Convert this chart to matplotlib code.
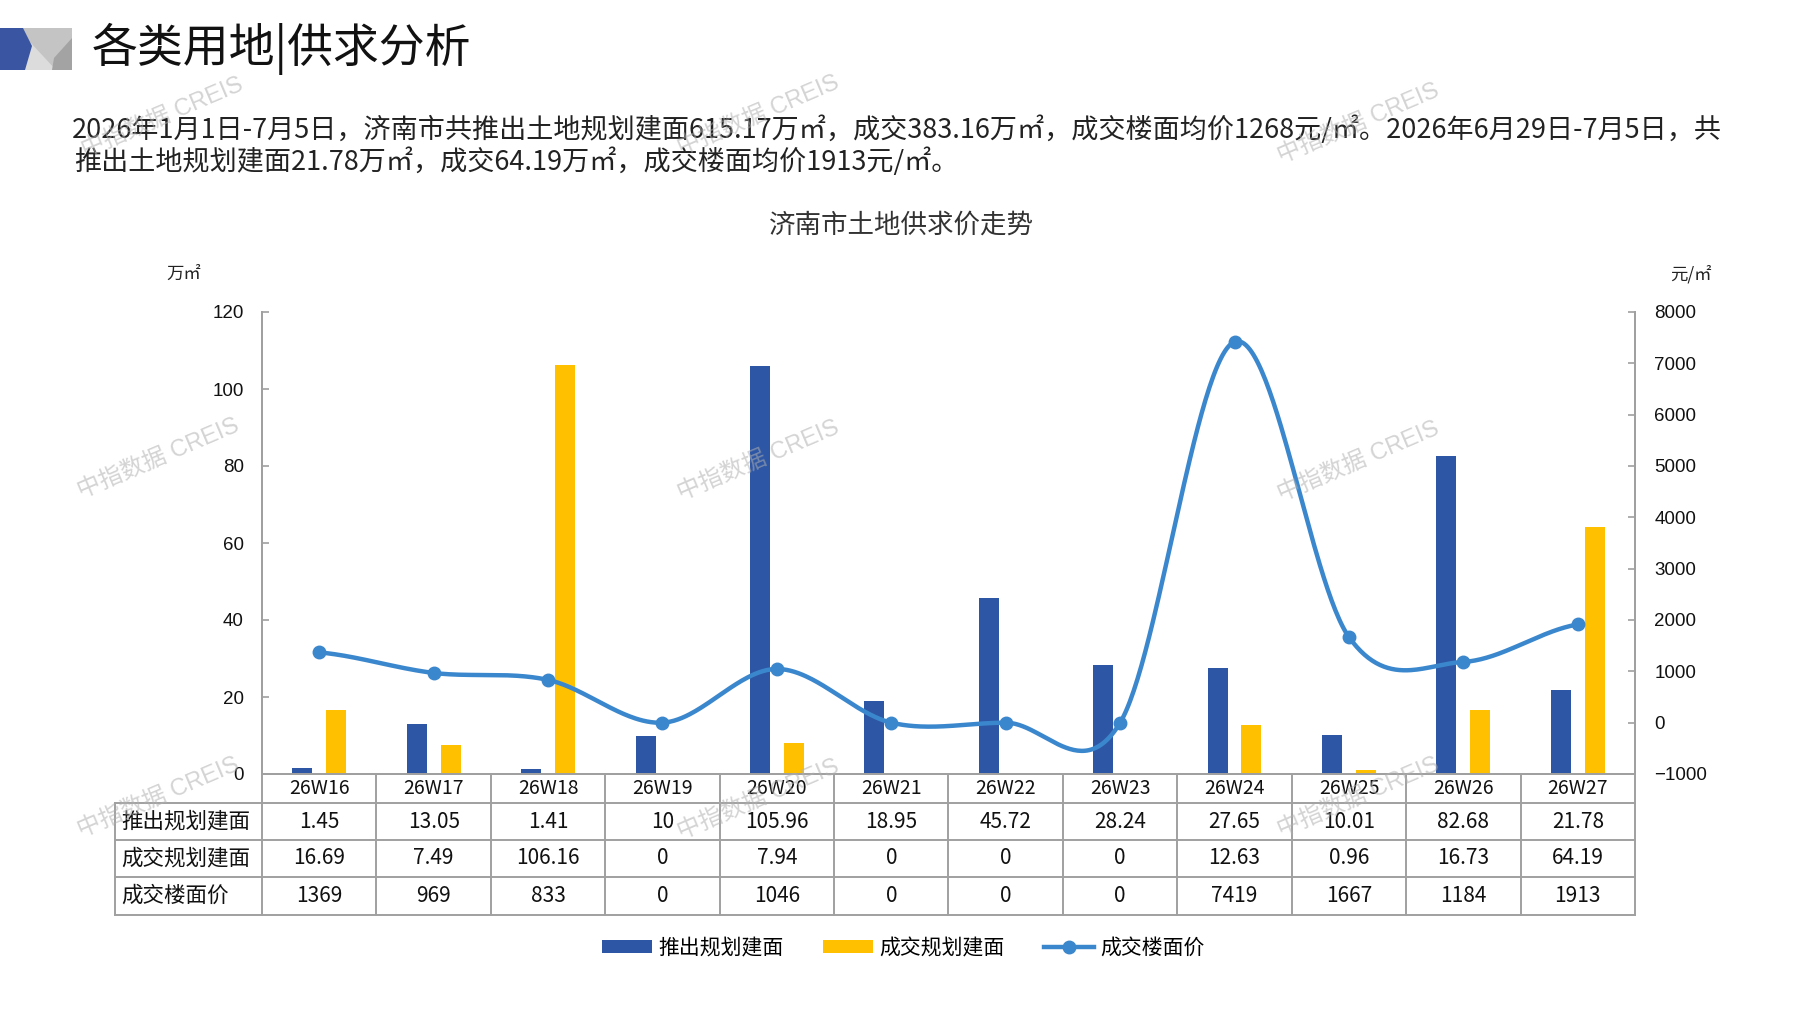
import numpy as np
import matplotlib
matplotlib.use("Agg")
import matplotlib.pyplot as plt
from matplotlib.patches import Polygon, Patch
from matplotlib.lines import Line2D

CJK = ['Noto Sans CJK SC', 'DejaVu Sans']
LAT = ['Liberation Sans', 'Noto Sans CJK SC', 'DejaVu Sans']
plt.rcParams['font.family'] = CJK

# ---------------- data ----------------
categories = ["26W16", "26W17", "26W18", "26W19", "26W20", "26W21",
              "26W22", "26W23", "26W24", "26W25", "26W26", "26W27"]
supply = [1.45, 13.05, 1.41, 10, 105.96, 18.95, 45.72, 28.24, 27.65, 10.01, 82.68, 21.78]
deal = [16.69, 7.49, 106.16, 0, 7.94, 0, 0, 0, 12.63, 0.96, 16.73, 64.19]
price = [1369, 969, 833, 0, 1046, 0, 0, 0, 7419, 1667, 1184, 1913]
series_names = ["推出规划建面", "成交规划建面", "成交楼面价"]
left_ticks = [0, 20, 40, 60, 80, 100, 120]
right_ticks = [-1000, 0, 1000, 2000, 3000, 4000, 5000, 6000, 7000, 8000]

title = "各类用地|供求分析"
para1 = "2026年1月1日-7月5日，济南市共推出土地规划建面615.17万㎡，成交383.16万㎡，成交楼面均价1268元/㎡。2026年6月29日-7月5日，共"
para2 = "推出土地规划建面21.78万㎡，成交64.19万㎡，成交楼面均价1913元/㎡。"
chart_title = "济南市土地供求价走势"
left_unit = "万㎡"
right_unit = "元/㎡"
watermark = "中指数据 CREIS"

BLUE = "#2D56A4"
YELLOW = "#FFC000"
LINEC = "#3B87CD"
GRID = "#A0A0A0"

W, H = 1797, 1010
fig = plt.figure(figsize=(W / 100, H / 100), dpi=100)
fig.patch.set_facecolor("white")


def fx(px):
    return px / W


def fy(py):
    return 1 - py / H


# ---------------- logo ----------------
logo = [
    ([(23, 28), (72, 28), (72, 70), (23, 70)], "#C4C4C4"),
    ([(30, 42), (56, 70), (24, 70)], "#DCDCDC"),
    ([(72, 38), (72, 70), (52, 70), (54, 58)], "#A3A3A3"),
    ([(0, 28), (23, 28), (32, 46), (25, 70), (0, 70)], "#3A55A2"),
]
for pts, col in logo:
    fig.add_artist(Polygon([(fx(a), fy(b)) for a, b in pts], closed=True,
                           facecolor=col, edgecolor="none",
                           transform=fig.transFigure))

renderer = fig.canvas.get_renderer()


def fit_text(x, y, s, target_w, size0, **kw):
    t = fig.text(x, y, s, fontsize=size0, **kw)
    w = t.get_window_extent(renderer).width
    t.set_fontsize(size0 * target_w / w)
    return t


t_title = fit_text(fx(92), fy(49), title, 379, 30, ha="left", va="center",
                   color="#111111")
t_p1 = fit_text(fx(72), fy(130), para1, 1650, 16, ha="left", va="center",
                color="#222222")
fig.text(fx(74), fy(162), para2, fontsize=t_p1.get_fontsize(), ha="left",
         va="center", color="#222222")
fit_text(fx(901), fy(225), chart_title, 265, 17, ha="center", va="center",
         color="#333333")
fig.text(fx(184), fy(274), left_unit, fontsize=12.5, ha="center", va="center",
         color="#222222")
fig.text(fx(1691), fy(274), right_unit, fontsize=12.5, ha="center", va="center",
         color="#222222")

# ---------------- axes ----------------
ax = fig.add_axes([fx(262), fy(774), fx(1635) - fx(262), fy(312) - fy(774)])
ax2 = ax.twinx()
x = np.arange(len(categories))
bw = 0.175
off = 0.148
ax.bar(x - off, supply, width=bw, color=BLUE, zorder=2)
ax.bar(x + off, deal, width=bw, color=YELLOW, zorder=2)
ax.set_xlim(-0.5, len(categories) - 0.5)
ax.set_ylim(0, 120)
ax.set_yticks(left_ticks)
ax.set_xticks([])
ax2.set_ylim(-1000, 8000)
ax2.set_yticks(right_ticks)

for a in (ax, ax2):
    a.set_facecolor("none")
    a.spines["top"].set_visible(False)
    for s in ("left", "right", "bottom"):
        a.spines[s].set_color(GRID)
        a.spines[s].set_linewidth(1.4)
ax.tick_params(axis="y", direction="in", length=5, width=1.2, color=GRID,
               labelsize=13.5, pad=13)
ax2.tick_params(axis="y", direction="in", length=5, width=1.2, color=GRID,
                labelsize=13.5, pad=14)
for lab in ax.get_yticklabels() + ax2.get_yticklabels():
    lab.set_fontfamily(LAT)
    lab.set_color("#111111")

# smooth line (Catmull-Rom / Excel-like smoothing through the points)
py = np.array(price, dtype=float)
n = len(py)
m = np.zeros(n)
m[1:-1] = (py[2:] - py[:-2]) / 2
m[0] = (py[1] - py[0]) / 2
m[-1] = (py[-1] - py[-2]) / 2
xs, ys = [], []
for i in range(n - 1):
    t = np.linspace(0, 1, 60)
    h00 = 2 * t**3 - 3 * t**2 + 1
    h10 = t**3 - 2 * t**2 + t
    h01 = -2 * t**3 + 3 * t**2
    h11 = t**3 - t**2
    xs.append(x[i] + t)
    ys.append(h00 * py[i] + h10 * m[i] + h01 * py[i + 1] + h11 * m[i + 1])
ax2.plot(np.concatenate(xs), np.concatenate(ys), color=LINEC, lw=3.2,
         zorder=3, solid_capstyle="round")
ax2.plot(x, py, "o", color=LINEC, ms=9, zorder=4)

# ---------------- table ----------------
inv = fig.transFigure.inverted()


def data_to_figx(v):
    return inv.transform(ax.transData.transform((v, 0)))[0]


rows_y = [774, 803, 840, 877, 915]
tab_left = fx(115)
right_edge = data_to_figx(len(categories) - 0.5)
line_kw = dict(color=GRID, lw=1.4, transform=fig.transFigure)
for yy in rows_y[1:]:
    fig.add_artist(Line2D([tab_left, right_edge], [fy(yy), fy(yy)], **line_kw))
fig.add_artist(Line2D([tab_left, tab_left], [fy(803), fy(915)], **line_kw))
for k in range(len(categories) + 1):
    xv = data_to_figx(k - 0.5)
    fig.add_artist(Line2D([xv, xv], [fy(774), fy(915)], **line_kw))

hdr_y = fy((774 + 803) / 2)
for i, c in enumerate(categories):
    fig.text(data_to_figx(i), hdr_y, c, fontsize=14, ha="center", va="center",
             color="#111111")
table_rows = [supply, deal, price]
for r, (name, vals) in enumerate(zip(series_names, table_rows)):
    yc = fy((rows_y[r + 1] + rows_y[r + 2]) / 2)
    fig.text(fx(121), yc, name, fontsize=15.5, ha="left", va="center",
             color="#111111")
    for i, v in enumerate(vals):
        fig.text(data_to_figx(i), yc, f"{v:g}", fontsize=15, ha="center",
                 va="center", color="#111111")

# ---------------- legend ----------------
handles = [Patch(facecolor=BLUE, edgecolor="none"),
           Patch(facecolor=YELLOW, edgecolor="none"),
           Line2D([], [], color=LINEC, lw=3.2, marker="o", ms=9)]
fig.legend(handles, series_names, loc="center",
           bbox_to_anchor=(fx(903), fy(948)), ncol=3, frameon=False,
           fontsize=15, handlelength=2.4, handleheight=0.6,
           handletextpad=0.3, columnspacing=1.9)

# ---------------- watermarks ----------------
wm_pos = [(162, 118), (758, 116), (1358, 124),
          (158, 459), (758, 461), (1358, 462),
          (158, 798), (758, 800), (1358, 798)]
for (wx, wy) in wm_pos:
    fig.text(fx(wx), fy(wy), watermark, fontsize=17, rotation=23,
             ha="center", va="center", color="#B0B0B0", alpha=0.55,
             family=LAT, zorder=10)

fig.savefig("out.png", dpi=100, facecolor="white")
